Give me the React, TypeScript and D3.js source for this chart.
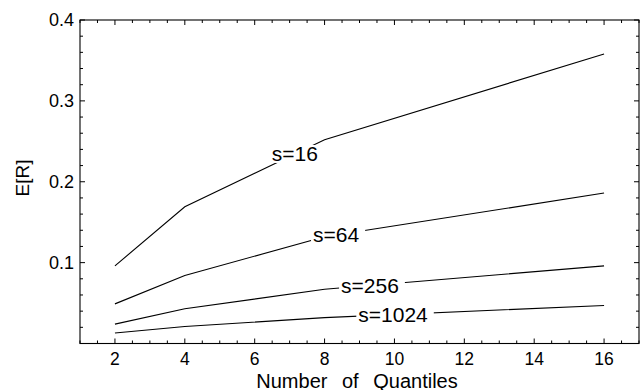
import React from "react";
import * as d3 from "d3";

const quantiles = [2, 4, 8, 16];
const seriesNames = ["s=16", "s=64", "s=256", "s=1024"];
const s16 = [0.096, 0.169, 0.252, 0.358];
const s64 = [0.049, 0.084, 0.132, 0.186];
const s256 = [0.024, 0.043, 0.067, 0.096];
const s1024 = [0.013, 0.021, 0.032, 0.047];
const labelAt = [7.15, 8.33, 9.3, 9.96];
const xTickValues = [2, 4, 6, 8, 10, 12, 14, 16];
const yTickValues = [0.1, 0.2, 0.3, 0.4];
const xTitle = "Number of Quantiles";
const yTitle = "E[R]";

const W = 640;
const H = 390;
const FONT = "'Liberation Sans', Arial, Helvetica, sans-serif";

function measure(text: string, size: number): number {
  const c = document.createElement("canvas").getContext("2d");
  if (!c) return text.length * size * 0.55;
  c.font = `${size}px ${FONT}`;
  return c.measureText(text).width;
}

export default function App() {
  const x = d3.scaleLinear().domain([1, 17]).range([80, 639]);
  const y = d3.scaleLinear().domain([0, 0.4]).range([343.5, 20]);
  const series = [s16, s64, s256, s1024];
  const line = d3
    .line<[number, number]>()
    .x((d) => x(d[0]))
    .y((d) => y(d[1]));

  const xMinor = d3.range(1, 17.01, 0.5).filter((v) => !xTickValues.includes(v));
  const yMinor = d3.range(0.02, 0.4, 0.02).filter((v) => !yTickValues.some((t) => Math.abs(t - v) < 1e-6));
  const X0 = 80, X1 = 639, Y0 = 343.5, Y1 = 20;
  const maj = 5, mnr = 3;
  const labelSize = 21;

  return (
    <svg
      width={W}
      height={H}
      style={{ position: "fixed", left: 0, top: 0, background: "#fff" }}
      fontFamily={FONT}
    >
      <rect x={0} y={0} width={W} height={H} fill="#fff" />
      {series.map((vals, i) => (
        <path
          key={"l" + i}
          d={line(quantiles.map((q, j) => [q, vals[j]] as [number, number])) || ""}
          fill="none"
          stroke="#000"
          strokeWidth={1.1}
        />
      ))}
      {series.map((vals, i) => {
        const interp = d3.scaleLinear().domain(quantiles).range(vals);
        const cx = x(labelAt[i]);
        const cy = y(interp(labelAt[i]));
        const w = measure(seriesNames[i], labelSize);
        return (
          <g key={"t" + i}>
            <rect x={cx - w / 2 - 2} y={cy - 9} width={w + 8} height={18} fill="#fff" />
            <text x={cx} y={cy + 7.5} textAnchor="middle" fontSize={labelSize} fill="#000">
              {seriesNames[i]}
            </text>
          </g>
        );
      })}
      <rect x={X0} y={Y1} width={X1 - X0} height={Y0 - Y1} fill="none" stroke="#000" strokeWidth={1.1} />
      {xTickValues.map((v) => (
        <g key={"xt" + v}>
          <line x1={x(v)} x2={x(v)} y1={Y0} y2={Y0 - maj} stroke="#000" />
          <line x1={x(v)} x2={x(v)} y1={Y1} y2={Y1 + maj} stroke="#000" />
          <text x={x(v)} y={364.5} textAnchor="middle" fontSize={17.5} fill="#000">
            {v}
          </text>
        </g>
      ))}
      {xMinor.map((v) => (
        <g key={"xm" + v}>
          <line x1={x(v)} x2={x(v)} y1={Y0} y2={Y0 - mnr} stroke="#000" />
          <line x1={x(v)} x2={x(v)} y1={Y1} y2={Y1 + mnr} stroke="#000" />
        </g>
      ))}
      {yTickValues.map((v) => (
        <g key={"yt" + v}>
          <line x1={X0} x2={X0 + maj} y1={y(v)} y2={y(v)} stroke="#000" />
          <line x1={X1} x2={X1 - maj} y1={y(v)} y2={y(v)} stroke="#000" />
          <text x={74} y={y(v) + 6.3} textAnchor="end" fontSize={18} fill="#000">
            {v.toFixed(1)}
          </text>
        </g>
      ))}
      {yMinor.map((v) => (
        <g key={"ym" + v}>
          <line x1={X0} x2={X0 + mnr} y1={y(v)} y2={y(v)} stroke="#000" />
          <line x1={X1} x2={X1 - mnr} y1={y(v)} y2={y(v)} stroke="#000" />
        </g>
      ))}
      <text
        x={357}
        y={387.5}
        textAnchor="middle"
        fontSize={20}
        fill="#000"
        style={{ wordSpacing: "9px" }}
      >
        {xTitle}
      </text>
      <text
        transform={`translate(29,178) rotate(-90)`}
        textAnchor="middle"
        fontSize={19}
        fill="#000"
      >
        {yTitle}
      </text>
    </svg>
  );
}
